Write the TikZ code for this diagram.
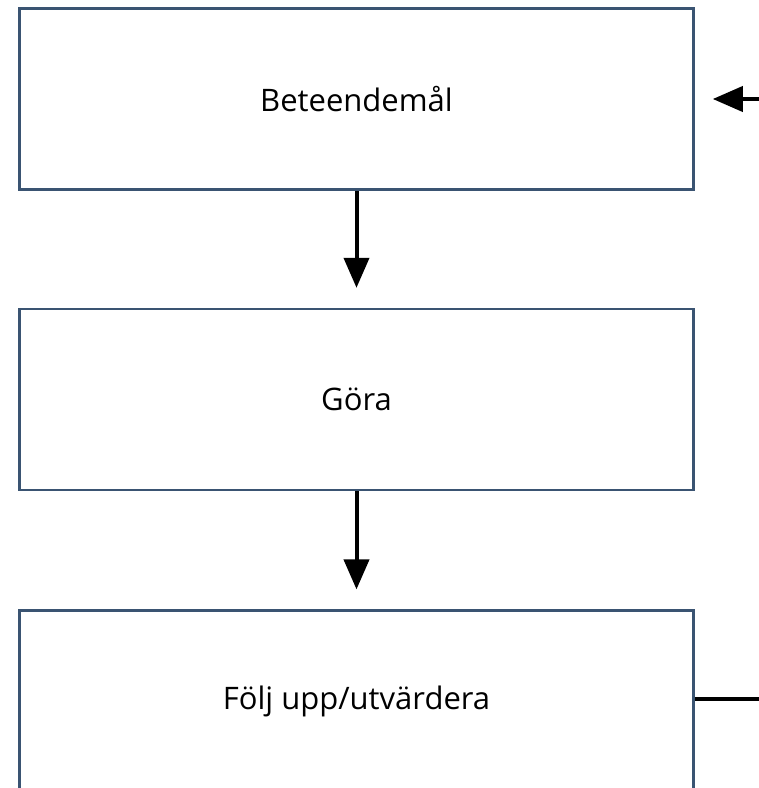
\documentclass[tikz,border=0pt]{standalone}
\usepackage{fontspec}
\setmainfont{Open Sans}
\usetikzlibrary{arrows.meta, positioning}
\definecolor{boxline}{RGB}{58,84,114}

\tikzset{
 stepbox/.style={draw=boxline, line width=2.6pt, fill=white, minimum width=674pt, minimum height=181pt, inner sep=0pt, font=\fontsize{31}{35}\selectfont},
 flow/.style={draw=black, line width=4pt, -{Triangle[length=30pt,width=25pt]}}
}

\begin{document}
\begin{tikzpicture}[x=1pt,y=-1pt]
 \clip (0,0) rectangle (759,788);
 \fill[white] (0,0) rectangle (759,788);

 \node[stepbox] (mal) at (356.5,99) {Beteendemål};
 \node[stepbox, below=117pt of mal] (gora) {Göra};
 \node[stepbox, below=118pt of gora] (folj) {Följ upp/utvärdera};

 \coordinate (loop) at (800,400);

 \draw[flow, shorten >=20pt] (mal) -- (gora);
 \draw[flow, shorten >=20pt] (gora) -- (folj);
 \draw[flow, shorten >=18pt] ([yshift=2pt]folj.east) -| (loop) |- (mal.east);
\end{tikzpicture}
\end{document}
